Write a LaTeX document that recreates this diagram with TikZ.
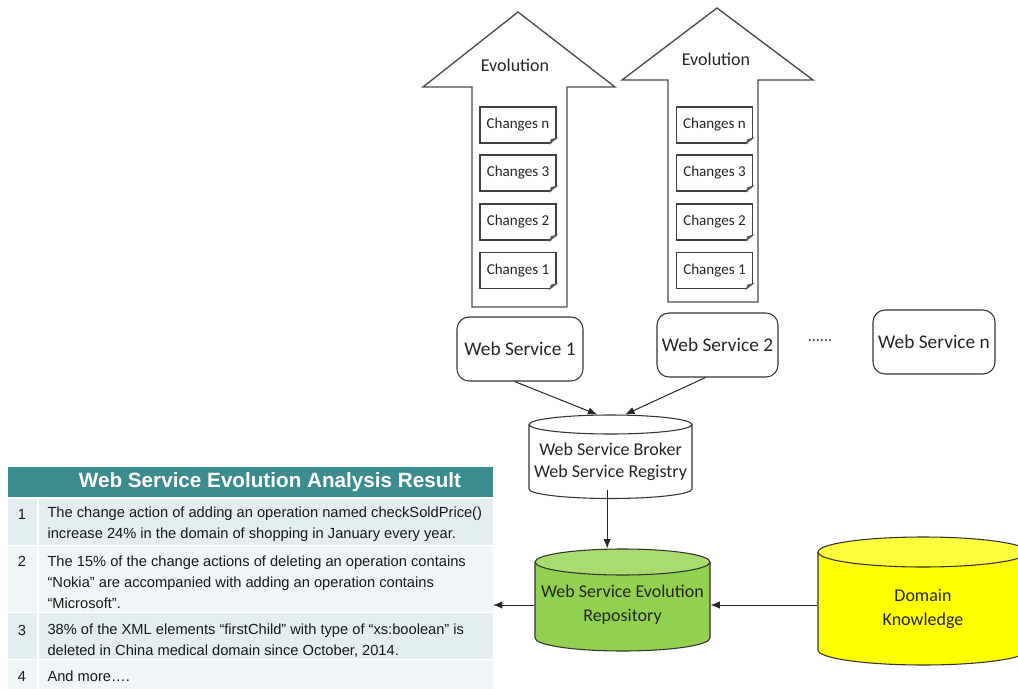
\documentclass[tikz,border=0pt]{standalone}
\usepackage{fontspec}
\setmainfont{Carlito}
\newfontfamily\arialfont{Liberation Sans}
\usetikzlibrary{arrows.meta}

\definecolor{tealhd}{HTML}{3B8C8E}
\definecolor{rowa}{HTML}{E3EEF0}
\definecolor{rowb}{HTML}{F0F6F7}
\definecolor{repobody}{HTML}{92D050}
\definecolor{repotop}{HTML}{A9DC6E}
\definecolor{knowbody}{HTML}{FFFF00}
\definecolor{knowtop}{HTML}{FFFF3C}

\begin{document}
\begin{tikzpicture}[x=0.75pt, y=-0.75pt, line width=0.8pt,
  every node/.style={text=black!85},
  chg/.style={draw=black!75, fill=white, minimum width=57pt, minimum height=27pt, inner sep=0pt, font=\fontsize{11.3}{13}\selectfont},
  wsbox/.style={draw=black!80, fill=white, rounded corners=9pt, minimum height=48pt, inner sep=0pt, font=\fontsize{14.5}{17}\selectfont},
  dbtext/.style={align=center, inner sep=0pt, font=\fontsize{13.5}{18}\selectfont},
  flow/.style={-{Latex[length=7pt,width=5.5pt]}, black!85, line width=0.75pt},
  tbltext/.style={anchor=west, align=left, inner sep=0pt, text=black!90, font=\arialfont\fontsize{11}{15.75}\selectfont}]

\useasboundingbox (0,0) rectangle (1018,689);

% Evolution arrows
\draw[black!70, fill=white, line width=1pt] (472,307) -- (472,87) -- (423,87) -- (518,12) -- (615,87) -- (567,87) -- (567,307) -- cycle;
\draw[black!70, fill=white, line width=1pt] (668,302) -- (668,80) -- (622,80) -- (717,8) -- (813,80) -- (758,80) -- (758,302) -- cycle;
\node[font=\fontsize{13.5}{16}\selectfont] (ev1) at (515,65) {Evolution};
\node[font=\fontsize{13.5}{16}\selectfont] (ev2) at (716,59) {Evolution};

% Change notes (with folded corner)
\foreach \a/\ax in {1/518, 2/714.5} {
  \foreach \k/\y in {n/125, 3/173, 2/222, 1/270.5} {
    \node[chg] (c\a\k) at (\ax,\y) {Changes \k};
    \fill[white] ([xshift=-5pt]c\a\k.south east) -- ([xshift=0.5pt,yshift=-0.5pt]c\a\k.south east) -- ([yshift=4pt]c\a\k.south east) -- cycle;
    \filldraw[black!65, line width=0.6pt] ([xshift=-5pt]c\a\k.south east) -- ([yshift=4pt]c\a\k.south east) -- ([xshift=-4pt,yshift=3pt]c\a\k.south east) -- cycle;
  }
}

% Web services
\node[wsbox, minimum width=94.5pt] (ws1) at (520,349) {Web Service 1};
\node[wsbox, minimum width=90.75pt] (ws2) at (717.5,345) {Web Service 2};
\node[wsbox, minimum width=91.5pt] (wsn) at (934,342) {Web Service n};
\node[font=\fontsize{12}{14}\selectfont] (dots) at (820,341) {......};

% Broker cylinder
\draw[black!80, fill=white] (529,424.5) -- (529,489) arc[start angle=180, end angle=0, x radius=81.5, y radius=9.5] -- (692,424.5);
\draw[black!80, fill=white] (610.5,424.5) ellipse [x radius=81.5, y radius=9.5];
\node[dbtext, font=\fontsize{13.5}{16.5}\selectfont, minimum width=122pt, minimum height=70.5pt] (bkr) at (610.5,462) {Web Service Broker\\Web Service Registry};

% Evolution repository cylinder
\draw[black!80, fill=repobody] (535,562) -- (535,638) arc[start angle=180, end angle=0, x radius=87.5, y radius=13] -- (710,562);
\draw[black!80, fill=repotop] (622.5,562) ellipse [x radius=87.5, y radius=13];
\node[dbtext, minimum width=131.25pt, minimum height=84pt] (grn) at (622.5,605) {Web Service Evolution\\Repository};

% Domain knowledge cylinder
\draw[black!80, fill=knowbody] (818,552) -- (818,650) arc[start angle=180, end angle=0, x radius=105, y radius=15] -- (1028,552);
\draw[black!80, fill=knowtop] (923,552) ellipse [x radius=105, y radius=15];
\node[dbtext, minimum width=157.5pt] (ykn) at (923,609) {Domain\\Knowledge};

% Result table
\fill[tealhd] (8,467) rectangle (493,497);
\node[text=white, font=\arialfont\bfseries\fontsize{15.5}{18}\selectfont] (hdr) at (270,482) {Web Service Evolution Analysis Result};
\foreach \ya/\yb/\c in {499/545/rowa, 546/612/rowb, 613/659/rowa, 660/689/rowb} {
  \fill[\c] (8,\ya) rectangle (37,\yb);
  \fill[\c] (39,\ya) rectangle (493,\yb);
}
\foreach \n/\y in {1/514, 2/561, 3/630, 4/676}
  \node[text=black!90, font=\arialfont\fontsize{11}{13}\selectfont] (n\n) at (22,\y) {\n};
\node[tbltext] (r1) at (47,524.5) {The change action of adding an operation named checkSoldPrice()\\increase 24\% in the domain of shopping in January every year.};
\node[tbltext] (r2) at (47,582) {The 15\% of the change actions of deleting an operation contains\\“Nokia” are accompanied with adding an operation contains\\“Microsoft”.};
\node[tbltext] (r3) at (47,640.5) {38\% of the XML elements “firstChild” with type of “xs:boolean” is\\deleted in China medical domain since October, 2014.};
\node[tbltext] (r4) at (47,676) {And more\dots.};
\coordinate (tbl) at (493,605);

% Connectors
\draw[flow] ([xshift=-4pt]ws1.south) -- ([xshift=-10pt]bkr.north);
\draw[flow] ([xshift=-9pt]ws2.south) -- ([xshift=11pt]bkr.north);
\draw[flow] ([xshift=-2.5pt,yshift=15pt]bkr.south) -- ([xshift=-2.5pt]bkr.south |- grn.north);
\draw[flow] (ykn.west |- grn.east) -- (grn.east);
\draw[flow] (grn.west) -- (tbl);

\end{tikzpicture}
\end{document}
